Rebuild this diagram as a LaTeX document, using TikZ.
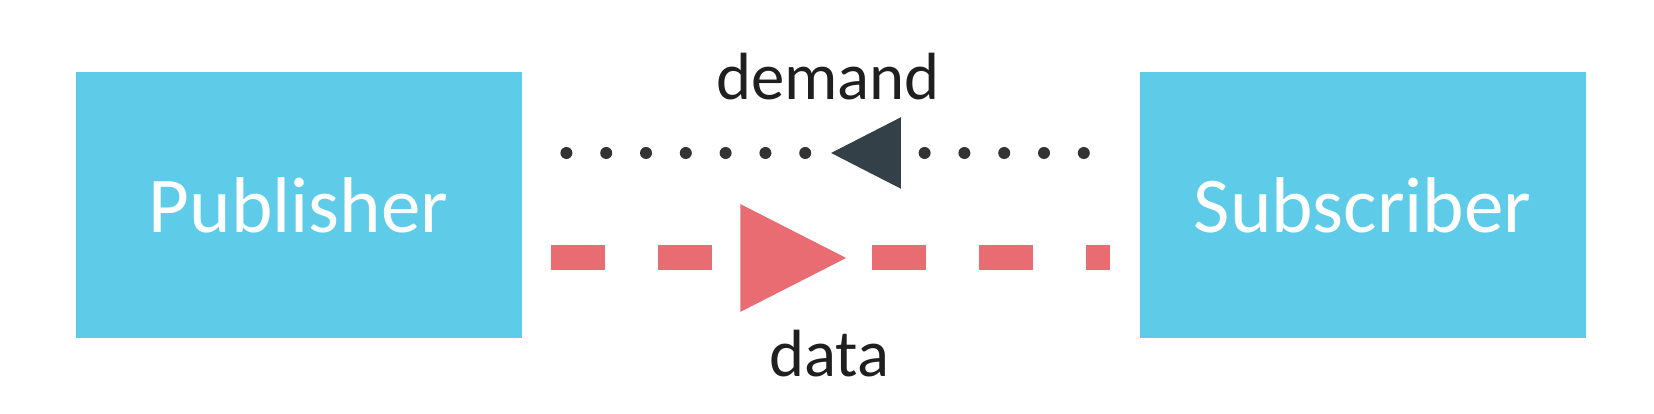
\documentclass[tikz,border=0pt]{standalone}
\usepackage{fontspec}
\setmainfont{Carlito}
\usetikzlibrary{arrows.meta,decorations.markings}
\definecolor{boxblue}{RGB}{94,203,232}
\definecolor{datared}{RGB}{232,108,113}
\definecolor{slate}{RGB}{52,64,72}
\definecolor{dotgray}{RGB}{51,51,51}

\begin{document}
\begin{tikzpicture}[
    party/.style={fill=boxblue, text=white, align=center,
                  minimum width=4.46cm, minimum height=2.66cm,
                  font=\fontsize{22.5}{27}\selectfont},
    flowlabel/.style={anchor=base, text=black!88, font=\fontsize{19}{23}\selectfont},
    demandline/.style={draw=dotgray, line width=0.12cm, line cap=round,
                 dash pattern=on 0pt off 0.398cm,
                 decoration={markings, mark=at position 0.4875 with
                   {\arrow[slate, line width=0.06cm]{Triangle[length=0.7cm,width=0.7cm]}}},
                 postaction=decorate},
    dataline/.style={draw=datared, line width=0.25cm,
                 dash pattern=on 0.54cm off 0.53cm,
                 decoration={markings, mark=at position 0.532 with
                   {\arrow{Triangle[length=1.08cm,width=1.0cm]}}},
                 postaction=decorate}
]
\useasboundingbox (0,0) rectangle (16.54,4.14);
\node[party] (pub) at (2.985,2.09) {Publisher};
\node[party] (sub) at (13.625,2.09) {Subscriber};
\node[flowlabel] (demand) at (8.28,3.14) {demand};
\node[flowlabel] (data) at (8.29,0.37) {data};
\draw[demandline] ([xshift=-0.55cm, yshift=0.52cm]sub.west) -- ([xshift=0.43cm, yshift=0.52cm]pub.east);
\draw[dataline] ([xshift=0.29cm, yshift=-0.53cm]pub.east) -- ([xshift=-0.29cm, yshift=-0.53cm]sub.west);
\end{tikzpicture}
\end{document}
